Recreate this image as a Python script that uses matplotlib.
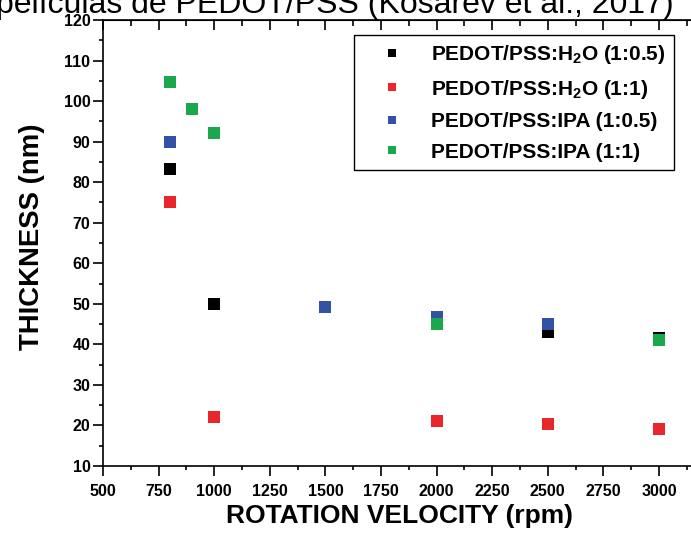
import matplotlib

matplotlib.use("Agg")
import matplotlib.pyplot as plt
from matplotlib.ticker import MultipleLocator

# rotation velocity (rpm) and film thickness (nm) per solution
rpm_h2o_05 = [800, 1000, 2500, 3000]
thk_h2o_05 = [83.3, 50.0, 43.0, 41.6]

rpm_h2o_1 = [800, 1000, 2000, 2500, 3000]
thk_h2o_1 = [75.2, 22.2, 21.1, 20.4, 19.2]

rpm_ipa_05 = [800, 1500, 2000, 2500]
thk_ipa_05 = [90.0, 49.3, 46.7, 45.1]

rpm_ipa_1 = [800, 900, 1000, 2000, 3000]
thk_ipa_1 = [104.8, 98.0, 92.1, 45.0, 41.0]

labels = [
    "PEDOT/PSS:H$_2$O (1:0.5)",
    "PEDOT/PSS:H$_2$O (1:1)",
    "PEDOT/PSS:IPA (1:0.5)",
    "PEDOT/PSS:IPA (1:1)",
]
colors = ["#000000", "#e8262b", "#3352a6", "#19a84c"]

plt.rcParams["font.family"] = ["Liberation Sans", "DejaVu Sans"]
plt.rcParams["mathtext.fontset"] = "custom"
plt.rcParams["mathtext.rm"] = "Liberation Sans:bold"
plt.rcParams["mathtext.it"] = "Liberation Sans:bold"
plt.rcParams["mathtext.bf"] = "Liberation Sans:bold"

fig = plt.figure(figsize=(6.91, 5.38), dpi=100)
ax_w = 2700 * 0.2224  # px width for 500..3200
ax = fig.add_axes([103 / 691, 72 / 538, ax_w / 691, 446 / 538])

series = [
    (rpm_h2o_05, thk_h2o_05),
    (rpm_h2o_1, thk_h2o_1),
    (rpm_ipa_05, thk_ipa_05),
    (rpm_ipa_1, thk_ipa_1),
]
for (xs, ys), color, label in zip(series, colors, labels):
    ax.plot(xs, ys, "s", color=color, ms=8.3, mew=0, label=label)

ax.set_xlim(500, 3200)
ax.set_ylim(10, 120)
ax.xaxis.set_major_locator(MultipleLocator(250))
ax.xaxis.set_minor_locator(MultipleLocator(125))
ax.yaxis.set_major_locator(MultipleLocator(10))
ax.yaxis.set_minor_locator(MultipleLocator(5))

ax.tick_params(axis="both", which="major", direction="out", length=7, width=1.2,
               labelsize=11.5, pad=2)
ax.tick_params(axis="both", which="minor", direction="out", length=3, width=1.2)
ax.tick_params(axis="x", which="major", pad=6)
for lab in ax.get_xticklabels() + ax.get_yticklabels():
    lab.set_fontweight("bold")

top = ax.secondary_xaxis("top")
top.xaxis.set_major_locator(MultipleLocator(250))
top.xaxis.set_minor_locator(MultipleLocator(125))
top.tick_params(which="major", direction="in", length=7, width=1.2, labeltop=False)
top.tick_params(which="minor", direction="in", length=4, width=1.2)

for spine in ax.spines.values():
    spine.set_linewidth(1.2)

ax.set_xlabel("ROTATION VELOCITY (rpm)", fontsize=19, fontweight="bold")
ax.set_ylabel("THICKNESS (nm)", fontsize=19.8, fontweight="bold")
ax.xaxis.set_label_coords((400 - 103) / ax_w, -(504 - 466) / 446)
ax.yaxis.set_label_coords(-(103 - 45) / ax_w, (466 - 237) / 446)

leg = ax.legend(
    loc="upper right",
    bbox_to_anchor=(674 / 691, 1 - 35 / 538),
    bbox_transform=fig.transFigure,
    borderaxespad=0,
    fancybox=False,
    edgecolor="black",
    framealpha=1,
    prop={"weight": "bold", "size": 15},
    markerscale=0.75,
    handlelength=2.8,
    handletextpad=0.5,
    labelspacing=0.55,
    borderpad=0.4,
)
leg.get_frame().set_linewidth(1.0)

# title of the source slide, cut off by the top edge of the picture
fig.text(674 / 691, 1 - 13 / 538, "películas de PEDOT/PSS (Kosarev et al., 2017)",
         ha="right", va="baseline", fontsize=23)

fig.savefig("out.png", dpi=100)
